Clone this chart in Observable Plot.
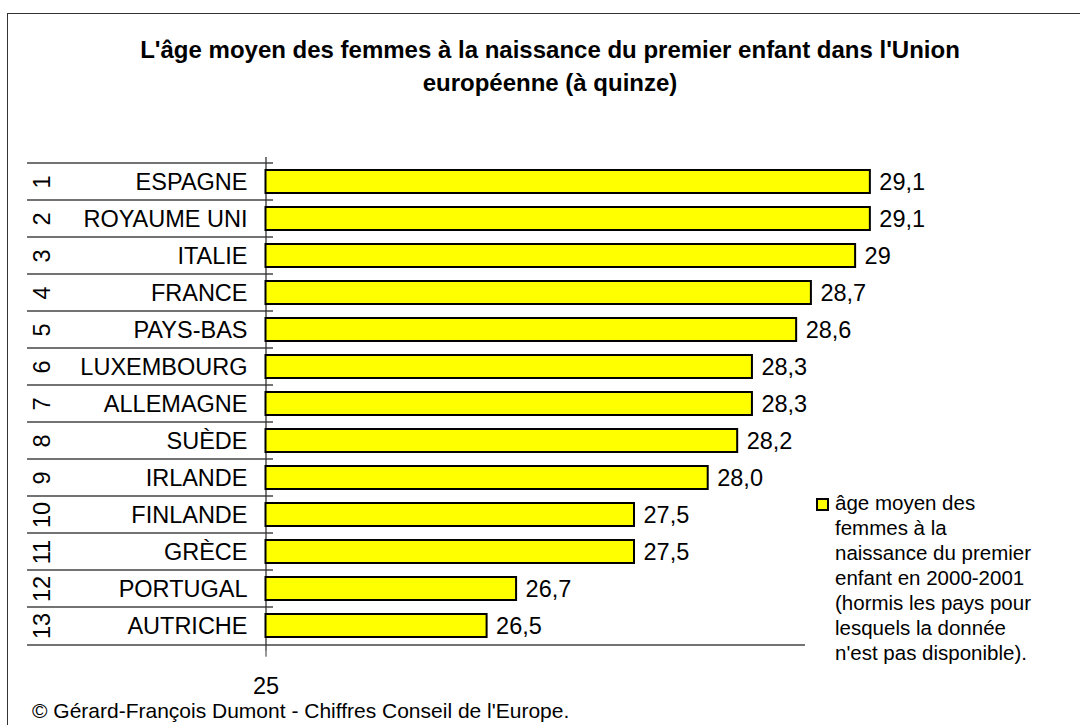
<!DOCTYPE html>
<html>
<head>
<meta charset="utf-8">
<script src="https://cdn.jsdelivr.net/npm/d3@7"></script>
<script src="https://cdn.jsdelivr.net/npm/@observablehq/plot@0.6"></script>
<style>
  html, body { margin: 0; padding: 0; background: #fff; }
  #page { position: relative; width: 1080px; height: 725px; overflow: hidden; background: #fff;
          font-family: "Liberation Sans", Arial, sans-serif; color: #000; }
  #frame { position: absolute; left: 7px; top: 12.5px; width: 1200px; height: 900px;
           border: 1.5px solid #333; box-sizing: border-box; }
  #title { position: absolute; left: 0; top: 33px; width: 1100px; text-align: center;
           font-weight: bold; font-size: 24px; line-height: 33px; }
  #chart { position: absolute; left: 0; top: 120px; }
  #legend { position: absolute; left: 835px; top: 490px; font-size: 20.5px; line-height: 25px; }
  #legend .sw { position: absolute; left: -19px; top: 8px; width: 9px; height: 9px;
                background: #ffff00; border: 2px solid #000; }
  #caption { position: absolute; left: 32px; top: 700px; font-size: 21px; line-height: 21px; white-space: nowrap; }
</style>
</head>
<body>
<div id="page">
  <div id="frame"></div>
  <div id="title"></div>
  <div id="chart"></div>
  <div id="legend"></div>
  <div id="caption"></div>
</div>
<script>
// ---- data ----
const titleLines = ["L'âge moyen des femmes à la naissance du premier enfant dans l'Union", "européenne (à quinze)"];
const ranks = ["1","2","3","4","5","6","7","8","9","10","11","12","13"];
const countries = ["ESPAGNE","ROYAUME UNI","ITALIE","FRANCE","PAYS-BAS","LUXEMBOURG","ALLEMAGNE","SUÈDE","IRLANDE","FINLANDE","GRÈCE","PORTUGAL","AUTRICHE"];
const values = [29.1, 29.1, 29, 28.7, 28.6, 28.3, 28.3, 28.2, 28.0, 27.5, 27.5, 26.7, 26.5];
const valueLabels = ["29,1","29,1","29","28,7","28,6","28,3","28,3","28,2","28,0","27,5","27,5","26,7","26,5"];
const xTicks = [25];
const xTickLabels = ["25"];
const xDomain = [25, 28.66];
const legendLines = ["âge moyen des","femmes à la","naissance du premier","enfant en 2000-2001","(hormis les pays pour","lesquels la donnée","n'est pas disponible)."];
const captionText = "© Gérard-François Dumont - Chiffres Conseil de l'Europe.";

// ---- layout ----
const width = 1080, height = 575;
const marginTop = 37, marginBottom = 44.3, marginLeft = 265.5, marginRight = 275;
const step = (height - marginTop - marginBottom) / countries.length;
const pxToX = d3.scaleLinear().domain([marginLeft, width - marginRight]).range(xDomain);
const labelEdge = 27, tickOut = 273, rankX = 42;

const data = countries.map((c, i) => ({country: c, value: values[i], label: valueLabels[i], rank: ranks[i]}));

document.getElementById("title").innerHTML = titleLines.join("<br>");
document.getElementById("legend").innerHTML = '<div class="sw"></div>' + legendLines.join("<br>");
document.getElementById("caption").textContent = captionText;

const chart = Plot.plot({
  width, height, marginTop, marginBottom, marginLeft, marginRight,
  style: {fontFamily: '"Liberation Sans", Arial, sans-serif', fontSize: "23.5px", background: "transparent", overflow: "visible"},
  x: {domain: xDomain, axis: null},
  y: {type: "band", domain: countries, padding: 0, axis: null},
  marks: [
    // row separators (label table)
    Plot.ruleY(countries, {y: d => d, dy: -step / 2, x1: pxToX(labelEdge), x2: pxToX(tickOut), stroke: "#444", strokeWidth: 1.3}),
    // bottom line of table + axis
    Plot.ruleY(countries.slice(-1), {y: d => d, dy: step / 2, x1: pxToX(labelEdge), x2: xDomain[1], stroke: "#444", strokeWidth: 1.3}),
    // vertical axis line
    Plot.ruleX(xTicks, {x: d => d, stroke: "#333", strokeWidth: 1.3}),
    // bars
    Plot.barX(data, {y: "country", x1: xTicks[0], x2: "value", fill: "#ffff00", stroke: "#000", strokeWidth: 2, insetTop: 7, insetBottom: 7}),
    // value labels
    Plot.text(data, {x: "value", y: "country", text: "label", textAnchor: "start", dx: 9, fontSize: 23.5, fill: "#000"}),
    // rank numbers (rotated)
    Plot.text(data, {y: "country", text: "rank", frameAnchor: "left", textAnchor: "middle", dx: rankX - marginLeft, rotate: -90, fontSize: 23.5, fill: "#000"}),
    // category labels
    Plot.axisY({domain: countries, tickSize: 0, tickPadding: 18.5, fontSize: 23.5, label: null}),
    // x axis tick
    Plot.axisX({ticks: xTicks, tickFormat: (d, i) => xTickLabels[i], tickSize: 6, tickPadding: 20, fontSize: 23.5, label: null, stroke: "#333"})
  ]
});
document.getElementById("chart").appendChild(chart);
</script>
</body>
</html>
